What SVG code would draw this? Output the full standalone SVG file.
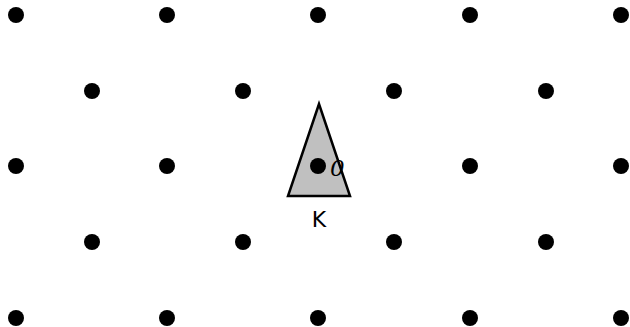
<svg xmlns="http://www.w3.org/2000/svg" width="630" height="327" viewBox="0 0 630 327">
<style>
.d{fill:#000}
.t{font-family:"DejaVu Sans",sans-serif;font-size:22px;fill:#000}
.o{font-family:"DejaVu Serif",serif;font-style:italic;font-size:23px;fill:#000}
</style>
<rect width="630" height="327" fill="#fff"/>
<g id="triangle">
<polygon points="319,104 288,196 350,196" fill="#c0c0c0" stroke="#000" stroke-width="2.5" stroke-linejoin="miter"/>
</g>
<g id="lattice">
<circle class="d" cx="16" cy="15" r="8"/><circle class="d" cx="167" cy="15" r="8"/><circle class="d" cx="318" cy="15" r="8"/><circle class="d" cx="470" cy="15" r="8"/><circle class="d" cx="621" cy="15" r="8"/>
<circle class="d" cx="92" cy="91" r="8"/><circle class="d" cx="243" cy="91" r="8"/><circle class="d" cx="394" cy="91" r="8"/><circle class="d" cx="546" cy="91" r="8"/>
<circle class="d" cx="16" cy="166" r="8"/><circle class="d" cx="167" cy="166" r="8"/><circle class="d" cx="318" cy="166" r="8"/><circle class="d" cx="470" cy="166" r="8"/><circle class="d" cx="621" cy="166" r="8"/>
<circle class="d" cx="92" cy="242" r="8"/><circle class="d" cx="243" cy="242" r="8"/><circle class="d" cx="394" cy="242" r="8"/><circle class="d" cx="546" cy="242" r="8"/>
<circle class="d" cx="16" cy="318" r="8"/><circle class="d" cx="167" cy="318" r="8"/><circle class="d" cx="318" cy="318" r="8"/><circle class="d" cx="470" cy="318" r="8"/><circle class="d" cx="621" cy="318" r="8"/>
</g>
<g id="labels">
<text class="o" x="330" y="176">0</text>
<text class="t" x="319" y="227" text-anchor="middle">K</text>
</g>
</svg>
